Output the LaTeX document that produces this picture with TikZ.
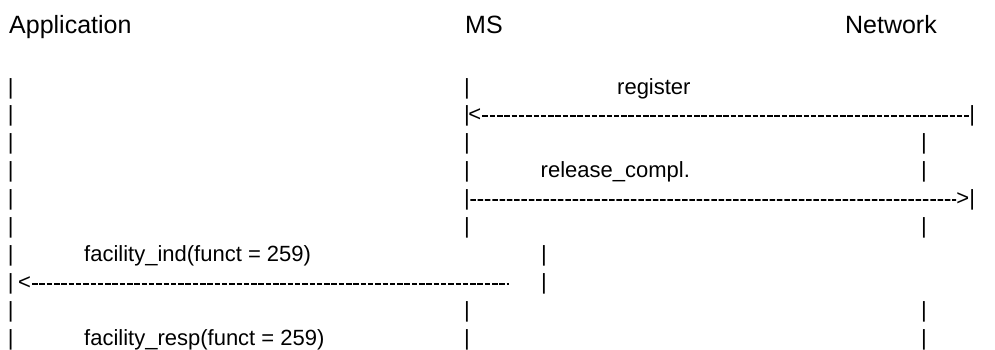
\documentclass[tikz,border=0pt]{standalone}
\usepackage{fontspec}
\setmainfont{Liberation Sans}
\tikzset{
  pipe/.style={inner sep=0pt, anchor=base, font=\fontsize{22}{26}\selectfont},
  msg/.style={inner sep=0pt, anchor=base west, font=\fontsize{22}{26}\selectfont},
  head/.style={inner sep=0pt, font=\fontsize{25}{30}\selectfont},
  dashln/.style={line width=1.7pt, dash pattern=on 5.5pt off 1.8pt}
}
\begin{document}
\begin{tikzpicture}[x=1pt,y=-1pt]
\useasboundingbox (0,0) rectangle (995,349);
% headers
\node[head,anchor=base west] (app) at (9,33.5) {Application};
\node[head,anchor=base west] (ms) at (465,33.5) {MS};
\node[head,anchor=base east] (net) at (937,33.5) {Network};
% lanes
\foreach \i in {1,...,10}
  \node[pipe] (a\i) at (10.7,{94+27.9*(\i-1)}) {|};
\foreach \i in {1,2,3,4,5,6,9,10}
  \node[pipe] (m\i) at (467,{94+27.9*(\i-1)}) {|};
\foreach \i in {3,4,6,9,10}
  \node[pipe] (n\i) at (924,{94+27.9*(\i-1)}) {|};
\node[pipe] (n2) at (972.3,121.9) {|};
\node[pipe] (n5) at (972.3,205.6) {|};
\node[pipe] (k7) at (544,261.4) {|};
\node[pipe] (k8) at (544,289.3) {|};
% messages
\node[msg] (reg) at (617,94) {register};
\node[msg] (rel) at (540.5,177.7) {release\_compl.};
\node[msg] (find) at (84,261.4) {facility\_ind(funct = 259)};
\node[msg] (fresp) at (84,345.1) {facility\_resp(funct = 259)};
% dashed arrows
\node[msg] (lt2) at (468.2,121.9) {<};
\draw[dashln] ([xshift=1pt,yshift=5.6pt]lt2.base east) -- ([yshift=5.6pt]n2.base west);
\node[msg] (gt5) at (956.2,205.6) {>};
\draw[dashln] ([xshift=0.3pt,yshift=5.6pt]m5.base east) -- ([yshift=5.6pt]gt5.base west);
\node[msg] (lt8) at (17.9,289.3) {<};
\coordinate (e8) at (508.5,289.3);
\draw[dashln] ([xshift=1pt,yshift=5.6pt]lt8.base east) -- ([yshift=5.6pt]e8);
\end{tikzpicture}
\end{document}
